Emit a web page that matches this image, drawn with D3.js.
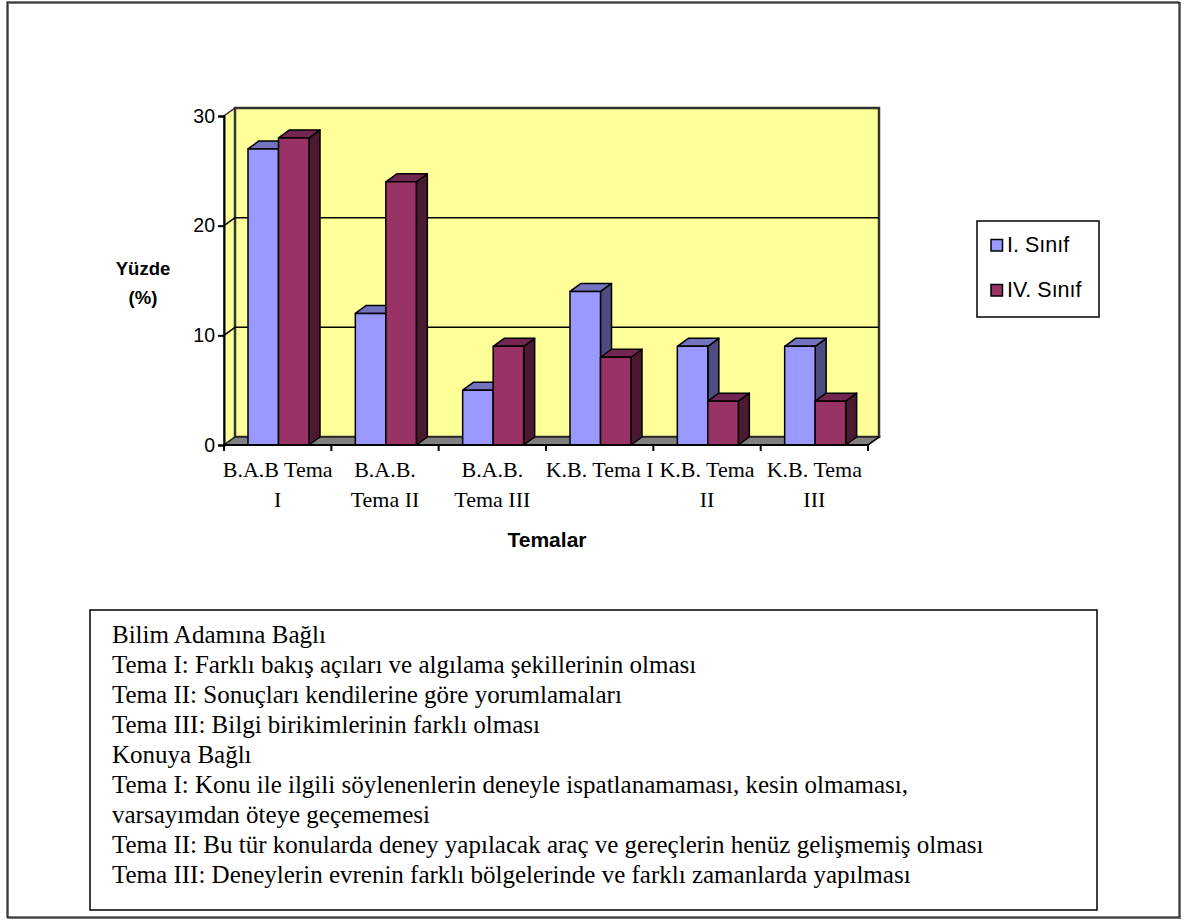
<!DOCTYPE html>
<html>
<head>
<meta charset="utf-8">
<script src="https://cdn.jsdelivr.net/npm/d3@7"></script>
<style>
  html, body { margin: 0; padding: 0; background: #fff; }
  svg { display: block; }
</style>
</head>
<body>
<svg id="chart" width="1188" height="924"></svg>
<script>
// Categories (themes) and their wrapped tick labels
const categories = ["B.A.B Tema I", "B.A.B. Tema II", "B.A.B. Tema III", "K.B. Tema I", "K.B. Tema II", "K.B. Tema III"];
const categoryLabelLines = [["B.A.B Tema", "I"], ["B.A.B.", "Tema II"], ["B.A.B.", "Tema III"], ["K.B. Tema I"], ["K.B. Tema", "II"], ["K.B. Tema", "III"]];

// Series names and percentages
const seriesNames = ["I. Sınıf", "IV. Sınıf"];
const sinifI = [27, 12, 5, 14, 9, 9];
const sinifIV = [28, 24, 9, 8, 4, 4];
const yTicks = [0, 10, 20, 30];

// Explanation box text
const noteLines = [
  "Bilim Adamına Bağlı",
  "Tema I: Farklı bakış açıları ve algılama şekillerinin olması",
  "Tema II: Sonuçları kendilerine göre yorumlamaları",
  "Tema III: Bilgi birikimlerinin farklı olması",
  "Konuya Bağlı",
  "Tema I: Konu ile ilgili söylenenlerin deneyle ispatlanamaması, kesin olmaması,",
  "varsayımdan öteye geçememesi",
  "Tema II: Bu tür konularda deney yapılacak araç ve gereçlerin henüz gelişmemiş olması",
  "Tema III: Deneylerin evrenin farklı bölgelerinde ve farklı zamanlarda yapılması"
];

const seriesValues = [sinifI, sinifIV];
const front = ["#9999FF", "#993366"];
const topC  = ["#7373BF", "#732650"];
const sideC = ["#4C4C80", "#4C1933"];

const SANS = "'Liberation Sans', Arial, sans-serif";
const SERIF = "'Liberation Serif', 'Times New Roman', serif";

const svg = d3.select("#chart");

// Outer frame
svg.append("rect").attr("x", 8).attr("y", 3).attr("width", 1172).attr("height", 915)
  .attr("fill", "#fff").attr("stroke", "#777").attr("stroke-width", 2);
svg.append("rect").attr("x", 7).attr("y", 2).attr("width", 1172).attr("height", 915)
  .attr("fill", "none").attr("stroke", "#000").attr("stroke-width", 1);

// Plot geometry (oblique 3D)
const x0Left = 224, x0Right = 868;
const DX = 11, DY = -8;
const x0 = d3.scaleBand().domain(categories).range([x0Left, x0Right]).padding(0);
const x1 = d3.scaleBand().domain(seriesNames).range([24, 85]).padding(0);
const y = d3.scaleLinear().domain([0, 30]).range([445, 116]);

const g = svg.append("g");

// Side wall (left)
g.append("path")
  .attr("d", `M${x0Left},${y(0)} L${x0Left},${y(30)} L${x0Left + DX},${y(30) + DY} L${x0Left + DX},${y(0) + DY} Z`)
  .attr("fill", "#FFFF99").attr("stroke", "#333").attr("stroke-width", 1.5);

// Back wall
g.append("rect")
  .attr("x", x0Left + DX).attr("y", y(30) + DY)
  .attr("width", x0Right - x0Left).attr("height", y(0) - y(30))
  .attr("fill", "#FFFF99").attr("stroke", "#333").attr("stroke-width", 2.5);

// Gridlines on side and back walls
yTicks.filter(t => t > 0 && t < 30).forEach(t => {
  g.append("path")
    .attr("d", `M${x0Left},${y(t)} L${x0Left + DX},${y(t) + DY} L${x0Right + DX},${y(t) + DY}`)
    .attr("fill", "none").attr("stroke", "#000").attr("stroke-width", 1.5);
});

// Floor
g.append("path")
  .attr("d", `M${x0Left},${y(0)} L${x0Right},${y(0)} L${x0Right + DX},${y(0) + DY} L${x0Left + DX},${y(0) + DY} Z`)
  .attr("fill", "#808080").attr("stroke", "#222").attr("stroke-width", 1.5);

// Bars
categories.forEach((c, i) => {
  seriesNames.forEach((s, k) => {
    const v = seriesValues[k][i];
    const xl = x0(c) + x1(s), w = x1.bandwidth();
    const yt = y(v), yb = y(0);
    const bg = g.append("g").attr("stroke", "#000").attr("stroke-width", 1.5).attr("stroke-linejoin", "round");
    bg.append("path")
      .attr("d", `M${xl + w},${yb} L${xl + w},${yt} L${xl + w + DX},${yt + DY} L${xl + w + DX},${yb + DY} Z`)
      .attr("fill", sideC[k]);
    bg.append("path")
      .attr("d", `M${xl},${yt} L${xl + w},${yt} L${xl + w + DX},${yt + DY} L${xl + DX},${yt + DY} Z`)
      .attr("fill", topC[k]);
    bg.append("rect").attr("x", xl).attr("y", yt).attr("width", w).attr("height", yb - yt)
      .attr("fill", front[k]);
  });
});

// Y axis
const yAxis = d3.axisLeft(y).tickValues(yTicks).tickSize(6).tickPadding(3).tickFormat(d3.format("d"));
const ya = svg.append("g").attr("transform", `translate(${x0Left},0)`).call(yAxis);
ya.select(".domain").attr("stroke", "#000").attr("stroke-width", 2);
ya.selectAll(".tick line").attr("stroke", "#000").attr("stroke-width", 2);
ya.selectAll(".tick text").attr("font-family", SANS)
  .attr("font-size", 19.5).attr("fill", "#000");

// X axis line and category ticks
const xa = svg.append("g");
xa.append("line").attr("x1", x0Left).attr("x2", x0Right).attr("y1", y(0)).attr("y2", y(0))
  .attr("stroke", "#000").attr("stroke-width", 2);
xa.append("line").attr("x1", x0Right).attr("x2", x0Right + DX).attr("y1", y(0)).attr("y2", y(0) + DY)
  .attr("stroke", "#000").attr("stroke-width", 1.5);
const boundaries = categories.map(c => x0(c)).concat([x0Right]);
xa.selectAll("line.tk").data(boundaries).enter().append("line").attr("class", "tk")
  .attr("x1", d => d).attr("x2", d => d).attr("y1", y(0)).attr("y2", y(0) + 6)
  .attr("stroke", "#000").attr("stroke-width", 2);

// Category labels
categories.forEach((c, i) => {
  const cx = x0(c) + x0.bandwidth() / 2;
  const t = svg.append("text").attr("x", cx).attr("y", 477)
    .attr("text-anchor", "middle")
    .attr("font-family", SERIF)
    .attr("font-size", 22).attr("fill", "#000");
  categoryLabelLines[i].forEach((ln, j) => {
    t.append("tspan").attr("x", cx).attr("dy", j === 0 ? 0 : 30).text(ln);
  });
});

// Axis titles
svg.append("text").attr("x", 143).attr("y", 275).attr("text-anchor", "middle")
  .attr("font-family", SANS).attr("font-weight", "bold")
  .attr("font-size", 18.5).text("Yüzde");
svg.append("text").attr("x", 143).attr("y", 304).attr("text-anchor", "middle")
  .attr("font-family", SANS).attr("font-weight", "bold")
  .attr("font-size", 18.5).text("(%)");
svg.append("text").attr("x", 547).attr("y", 547).attr("text-anchor", "middle")
  .attr("font-family", SANS).attr("font-weight", "bold")
  .attr("font-size", 21).text("Temalar");

// Legend
const lg = svg.append("g");
lg.append("rect").attr("x", 977).attr("y", 221).attr("width", 122).attr("height", 96)
  .attr("fill", "#fff").attr("stroke", "#000").attr("stroke-width", 1.5);
seriesNames.forEach((s, k) => {
  const cy = 245 + k * 45;
  lg.append("rect").attr("x", 991).attr("y", cy - 5.5).attr("width", 11.5).attr("height", 11.5)
    .attr("fill", front[k]).attr("stroke", "#000").attr("stroke-width", 1.5);
  lg.append("text").attr("x", 1007).attr("y", cy + 6.5)
    .attr("font-family", SANS).attr("font-size", 21.5).text(s);
});

// Explanation box
svg.append("rect").attr("x", 90).attr("y", 610).attr("width", 1007).attr("height", 300)
  .attr("fill", "#fff").attr("stroke", "#000").attr("stroke-width", 1.5);
svg.append("g").selectAll("text").data(noteLines).enter().append("text")
  .attr("x", 112).attr("y", (d, i) => 643 + i * 30)
  .attr("font-family", SERIF)
  .attr("font-size", 25).attr("fill", "#000")
  .text(d => d);
</script>
</body>
</html>
